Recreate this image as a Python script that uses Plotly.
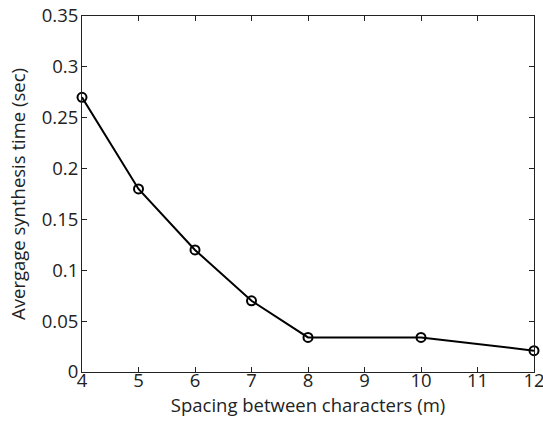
import plotly.graph_objects as go

spacing = [4, 5, 6, 7, 8, 10, 12]
synth_time = [0.27, 0.18, 0.12, 0.07, 0.034, 0.034, 0.021]
x_ticks = [4, 5, 6, 7, 8, 9, 10, 11, 12]
y_ticks = [0, 0.05, 0.1, 0.15, 0.2, 0.25, 0.3, 0.35]
y_tick_text = ["0", "0.05", "0.1", "0.15", "0.2", "0.25", "0.3", "0.35"]

FONT = "Open Sans"
TICK_SIZE = 18.5
TITLE_SIZE = 18.5

fig = go.Figure(go.Scatter(
    x=spacing, y=synth_time, mode="lines+markers",
    line=dict(color="black", width=2),
    marker=dict(symbol="circle-open", size=9, color="black", line=dict(width=2)),
    cliponaxis=False,
))

axis_common = dict(
    showgrid=False, zeroline=False, showline=True, linecolor="#222", linewidth=1,
    mirror="ticks", ticks="inside", ticklen=5, tickcolor="#222", tickwidth=1,
    tickfont=dict(family=FONT, size=TICK_SIZE, color="#222"),
    automargin=False, ticklabeloverflow="allow",
)

fig.update_layout(
    width=543, height=421,
    margin=dict(l=81.5, r=9, t=15.5, b=49),
    paper_bgcolor="white", plot_bgcolor="white",
    showlegend=False,
    font=dict(family=FONT, size=TITLE_SIZE, color="#222"),
    xaxis=dict(range=[4, 12], tickvals=x_ticks, ticklabelstandoff=-8,
               title=dict(text="Spacing between characters (m)", standoff=0,
                          font=dict(family=FONT, size=TITLE_SIZE, color="#222")),
               **axis_common),
    yaxis=dict(range=[0, 0.35], tickvals=y_ticks, ticktext=y_tick_text, ticklabelstandoff=-1,
               title=dict(text="Avergage synthesis time (sec)", standoff=11,
                          font=dict(family=FONT, size=TITLE_SIZE, color="#222")),
               **axis_common),
)

fig.write_html("out.html", config={"displayModeBar": False},
               post_script="document.body.style.margin='0';")
